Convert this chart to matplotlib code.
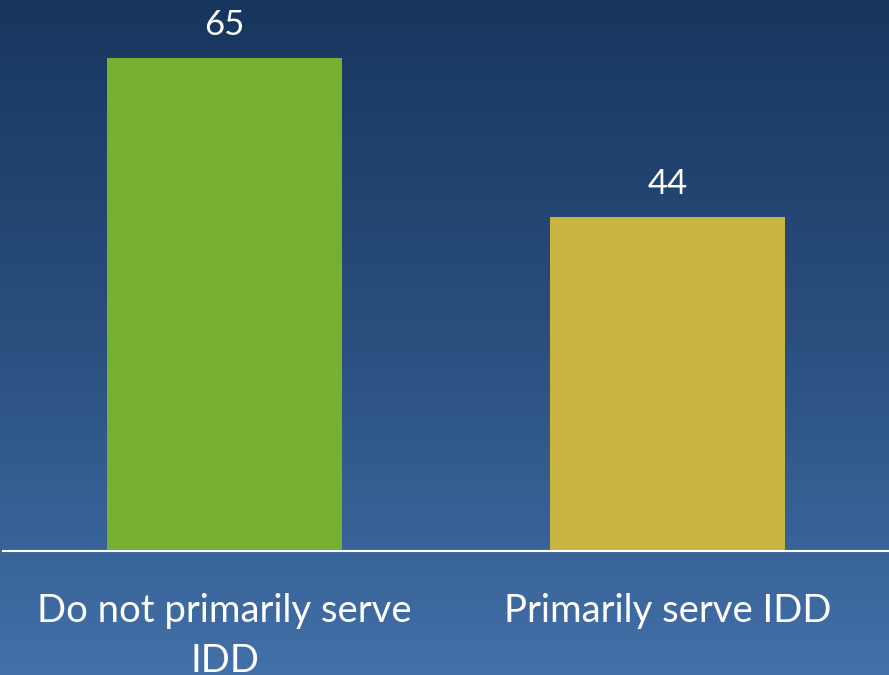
import matplotlib
matplotlib.use("Agg")
import matplotlib.pyplot as plt
import numpy as np
from matplotlib.colors import LinearSegmentedColormap

categories = ["Do not primarily serve\nIDD", "Primarily serve IDD"]
values = [65, 44]
bar_colors = ["#75b033", "#c9b442"]

plt.rcParams['font.family'] = ['Lato', 'DejaVu Sans']

W, H = 889, 675
fig = plt.figure(figsize=(W / 100, H / 100), dpi=100)

# gradient background
bg = fig.add_axes([0, 0, 1, 1])
bg.set_axis_off()
cmap = LinearSegmentedColormap.from_list("bg", ["#17365e", "#2a4f7f", "#4270a8"])
grad = np.linspace(0, 1, 256).reshape(-1, 1)
bg.imshow(grad, aspect="auto", cmap=cmap, extent=[0, 1, 0, 1], origin="upper")
bg.set_xlim(0, 1)
bg.set_ylim(0, 1)

ax_bottom = (H - 551) / H
ax = fig.add_axes([3 / W, ax_bottom, 886 / W, 1 - ax_bottom])
ax.patch.set_alpha(0)
x = np.arange(len(categories))
bars = ax.bar(x, values, width=0.53, color=bar_colors, zorder=2)
ax.set_xlim(-0.5, 1.5)
ax.set_ylim(0, 72.6)
for s in ["top", "right", "left"]:
    ax.spines[s].set_visible(False)
ax.spines["bottom"].set_color("#ffffff")
ax.spines["bottom"].set_linewidth(1.5)
ax.set_yticks([])
ax.set_xticks(x)
ax.set_xticklabels(categories, color="white", fontsize=27.5, linespacing=1.5, va="top")
ax.tick_params(axis="x", length=0, pad=30)

for xi, v in zip(x, values):
    ax.annotate(f"{v}", (xi, v), xytext=(0, 17), textcoords="offset pixels",
                ha="center", va="bottom", color="white", fontsize=25)

fig.savefig("out.png", dpi=100)
